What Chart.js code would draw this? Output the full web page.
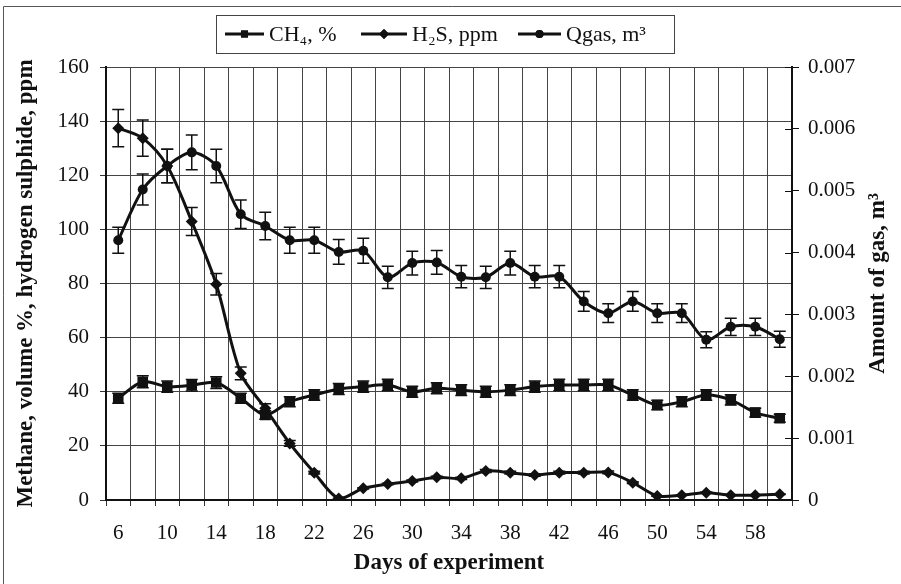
<!DOCTYPE html>
<html>
<head>
<meta charset="utf-8">
<script src="https://cdn.jsdelivr.net/npm/chart.js@4.4.1/dist/chart.umd.min.js"></script>
<style>
  html, body { margin: 0; padding: 0; background: #fff; }
  #wrap { width: 901px; height: 584px; }
</style>
</head>
<body>
<div id="wrap"><canvas id="chart" width="901" height="584"></canvas></div>
<script>
// days of the experiment (one point every 2 days)
const days = [6, 8, 10, 12, 14, 16, 18, 20, 22, 24, 26, 28, 30, 32, 34, 36, 38, 40, 42, 44, 46, 48, 50, 52, 54, 56, 58, 60];
const xTickDays = [6, 10, 14, 18, 22, 26, 30, 34, 38, 42, 46, 50, 54, 58];

// methane, volume %
const ch4 = [37.6, 43.7, 41.9, 42.4, 43.4, 37.6, 31.4, 36.3, 38.8, 41.0, 41.9, 42.5, 40.0, 41.3,
             40.6, 40.0, 40.6, 41.9, 42.5, 42.5, 42.5, 38.8, 35.1, 36.3, 38.8, 37.0, 32.3, 30.2];
// hydrogen sulphide, ppm
const h2s = [137.4, 133.7, 123.4, 102.9, 79.7, 46.8, 33.9, 20.9, 10.1, 0.6, 4.3, 5.9, 7.0, 8.4,
             8.0, 10.7, 10.1, 9.2, 10.1, 10.1, 10.2, 6.4, 1.5, 1.8, 2.7, 1.8, 1.8, 2.1];
// amount of gas, m3
const qgas = [0.00420, 0.00502, 0.00540, 0.00562, 0.00540, 0.00462, 0.00443, 0.00420, 0.00420, 0.00401,
              0.00403, 0.00360, 0.00383, 0.00384, 0.00361, 0.00360, 0.00383, 0.00361, 0.00361, 0.00321,
              0.00302, 0.00321, 0.00302, 0.00302, 0.00259, 0.00280, 0.00280, 0.00260];

// relative size of the error bars
const errFraction = 0.05;

const rightTickLabels = ['0', '0.001', '0.002', '0.003', '0.004', '0.005', '0.006', '0.007'];

const serif = "'Liberation Serif', 'DejaVu Serif', serif";
const ink = '#111';

// frame, error bars, legend and right title
const decor = {
  id: 'decor',
  beforeDraw(chart) {
    const c = chart.ctx;
    c.save();
    c.fillStyle = '#fff';
    c.fillRect(0, 0, chart.width, chart.height);
    c.strokeStyle = '#555';
    c.lineWidth = 1;
    c.beginPath();
    c.moveTo(3.5, 584);
    c.lineTo(3.5, 6.5);
    c.lineTo(901, 6.5);
    c.stroke();
    c.restore();
  },
  afterDatasetsDraw(chart) {
    const c = chart.ctx;
    c.save();
    c.strokeStyle = ink;
    c.lineWidth = 1.5;
    chart.data.datasets.forEach((ds, di) => {
      const meta = chart.getDatasetMeta(di);
      const sc = chart.scales[ds.yAxisID];
      ds.data.forEach((v, i) => {
        const x = meta.data[i].x;
        const y0 = sc.getPixelForValue(v * (1 + errFraction));
        const y1 = sc.getPixelForValue(v * (1 - errFraction));
        c.beginPath();
        c.moveTo(x, y0); c.lineTo(x, y1);
        c.moveTo(x - 6, y0); c.lineTo(x + 6, y0);
        c.moveTo(x - 6, y1); c.lineTo(x + 6, y1);
        c.stroke();
      });
    });
    c.restore();
  },
  afterDraw(chart) {
    const c = chart.ctx;
    const area = chart.chartArea;
    const r = chart.scales.y1;
    c.save();
    // inner half of the right axis ticks
    c.strokeStyle = ink;
    c.lineWidth = 1;
    r.ticks.forEach(t => {
      const y = Math.round(r.getPixelForValue(t.value)) + 0.5;
      c.beginPath();
      c.moveTo(area.right - 7, y);
      c.lineTo(area.right, y);
      c.stroke();
    });

    // right axis title
    c.fillStyle = ink;
    c.font = 'bold 23px ' + serif;
    c.textAlign = 'center';
    c.textBaseline = 'middle';
    c.translate(878, (area.top + area.bottom) / 2);
    c.rotate(-Math.PI / 2);
    c.fillText('Amount of gas, m³', 0, 0);
    c.restore();

    // legend
    c.save();
    c.strokeStyle = '#444';
    c.lineWidth = 1;
    c.strokeRect(216.5, 15.5, 458, 38);
    const items = [
      { x0: 225, x1: 264, style: 'rect', r: 5 },
      { x0: 361, x1: 407, style: 'rectRot', r: 5 },
      { x0: 518, x1: 561, style: 'circle', r: 4 }
    ];
    const ly = 34;
    c.font = '22px ' + serif;
    c.textAlign = 'left';
    c.textBaseline = 'middle';
    items.forEach((it, i) => {
      c.strokeStyle = ink;
      c.lineWidth = 3;
      c.beginPath();
      c.moveTo(it.x0, ly); c.lineTo(it.x1, ly);
      c.stroke();
      c.fillStyle = ink;
      Chart.helpers.drawPoint(c, { pointStyle: it.style, radius: it.r, borderWidth: 0 }, (it.x0 + it.x1) / 2, ly);
      c.fill();
      c.fillText(chart.data.datasets[i].label, it.x1 + 5, ly + 1);
    });
    c.restore();
  }
};

new Chart(document.getElementById('chart'), {
  type: 'line',
  data: {
    labels: days,
    datasets: [
      { label: 'CH₄, %', data: ch4, yAxisID: 'y', pointStyle: 'rect', pointRadius: 7.5 },
      { label: 'H₂S, ppm', data: h2s, yAxisID: 'y', pointStyle: 'rectRot', pointRadius: 6 },
      { label: 'Qgas, m³', data: qgas, yAxisID: 'y1', pointStyle: 'circle', pointRadius: 5 }
    ]
  },
  options: {
    responsive: false,
    animation: false,
    layout: { padding: { left: 3, right: 0, top: 67, bottom: 0 } },
    plugins: { legend: { display: false }, tooltip: { enabled: false } },
    elements: {
      line: { borderColor: ink, borderWidth: 3, tension: 0.3, fill: false },
      point: { backgroundColor: ink, borderColor: ink, borderWidth: 0 }
    },
    scales: {
      x: {
        type: 'category',
        offset: true,
        grid: { offset: true, color: '#444', lineWidth: 1, tickLength: 6, tickColor: '#333' },
        border: { color: ink, width: 2 },
        ticks: {
          autoSkip: false, maxRotation: 0, padding: 15, color: ink,
          font: { family: serif, size: 21 },
          callback(v, i) { return xTickDays.includes(days[i]) ? String(days[i]) : ''; }
        },
        title: {
          display: true, text: 'Days of experiment', color: ink,
          font: { family: serif, size: 23, weight: 'bold' }, padding: { top: 0, bottom: 7 }
        },
        afterFit(s) { s.height = 84; }
      },
      y: {
        position: 'left',
        min: 0, max: 160,
        grid: { color: '#444', lineWidth: 1, tickLength: 6, tickColor: '#333' },
        border: { color: ink, width: 2 },
        ticks: { stepSize: 20, padding: 11, color: ink, font: { family: serif, size: 21 } },
        title: {
          display: true, text: 'Methane, volume %, hydrogen sulphide, ppm', color: ink,
          font: { family: serif, size: 23, weight: 'bold' }, padding: { top: 9, bottom: 0 }
        },
        afterFit(s) { s.width = 103; }
      },
      y1: {
        position: 'right',
        min: 0, max: 0.007,
        grid: { drawOnChartArea: false, tickLength: 7, tickColor: ink },
        border: { color: ink, width: 2 },
        ticks: {
          stepSize: 0.001, padding: 9, color: ink, font: { family: serif, size: 21 },
          callback(v, i) { return rightTickLabels[i]; }
        },
        afterFit(s) { s.width = 109; }
      }
    }
  },
  plugins: [decor]
});
</script>
</body>
</html>
